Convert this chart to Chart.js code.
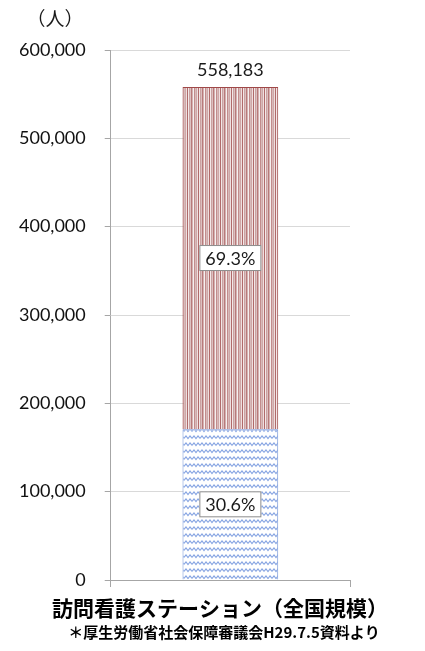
<!DOCTYPE html>
<html>
<head>
<meta charset="utf-8">
<script src="https://cdn.jsdelivr.net/npm/chart.js@4"></script>
<style>
  html, body { margin: 0; padding: 0; background: #fff; }
  #wrap { width: 425px; height: 651px; }
</style>
</head>
<body>
<div id="wrap"><canvas id="chart" width="425" height="651"></canvas></div>
<script>
// Chart data
const categories = ['訪問看護ステーション（全国規模）'];
const lowerValues = [170800];   // 30.6%
const upperValues = [387383];   // 69.3%
const lowerLabels = ['30.6%'];
const upperLabels = ['69.3%'];
const totalLabels = ['558,183'];
const yTicks = [0, 100000, 200000, 300000, 400000, 500000, 600000];
const sourceNote = '＊厚生労働省社会保障審議会H29.7.5資料より';

const numFont = "Lato, 'Open Sans', sans-serif";
const jpFont = "'Noto Sans CJK JP', sans-serif";

// Vertical red stripes
function stripePattern() {
    const c = document.createElement('canvas');
    c.width = 11; c.height = 4;
    const g = c.getContext('2d');
    g.fillStyle = '#cfa9a9';
    g.fillRect(0, 0, 11, 4);
    const cols = ['#b06a6a', '#f3e8e8', '#caa2a2', '#dcc0c0', '#b87a7a', '#d4b2b2', '#f6efef', '#c28c8c', '#d8baba', '#cfa8a8', '#efdfdf'];
    cols.forEach((col, i) => { g.fillStyle = col; g.fillRect(i, 0, 1, 4); });
    return g.createPattern(c, 'repeat');
}

// Blue zigzag waves on white
function wavePattern() {
    const c = document.createElement('canvas');
    c.width = 8; c.height = 7;
    const g = c.getContext('2d');
    g.fillStyle = '#ffffff';
    g.fillRect(0, 0, 8, 7);
    g.strokeStyle = '#86a4e2';
    g.lineWidth = 1.1;
    g.beginPath();
    g.moveTo(0, 4.5); g.lineTo(2, 2); g.lineTo(4, 4.5); g.lineTo(6, 2); g.lineTo(8, 4.5);
    g.stroke();
    return g.createPattern(c, 'repeat');
}

// Boxed percentage labels, total on top, unit label and captions
const labelPlugin = {
    id: 'labelPlugin',
    afterDatasetsDraw(chart) {
        const ctx = chart.ctx;
        ctx.save();
        ctx.font = '18px ' + numFont;
        ctx.textAlign = 'center';
        ctx.textBaseline = 'middle';
        [[0, lowerLabels], [1, upperLabels]].forEach(([di, labels]) => {
            chart.getDatasetMeta(di).data.forEach((bar, i) => {
                const cy = (bar.y + bar.base) / 2;
                const w = ctx.measureText(labels[i]).width + 12;
                ctx.fillStyle = '#fff';
                ctx.fillRect(bar.x - w / 2, cy - 13, w, 26);
                ctx.strokeStyle = '#8c8c8c';
                ctx.lineWidth = 1;
                ctx.strokeRect(bar.x - w / 2 + 0.5, cy - 12.5, w - 1, 25);
                ctx.fillStyle = '#1a1a1a';
                ctx.fillText(labels[i], bar.x, cy + 1);
            });
        });
        chart.getDatasetMeta(1).data.forEach((bar, i) => {
            ctx.fillStyle = '#1a1a1a';
            ctx.fillText(totalLabels[i], bar.x, bar.y - 17);
        });
        ctx.font = '19px ' + jpFont;
        ctx.fillText('（人）', 55, 19);

        const bottom = chart.chartArea.bottom;
        ctx.fillStyle = '#000';
        ctx.font = 'bold 21px ' + jpFont;
        ctx.fillText(categories[0], 220, bottom + 28);
        ctx.font = 'bold 15px ' + jpFont;
        ctx.fillText(sourceNote, 224, bottom + 52);
        ctx.restore();
    }
};

new Chart(document.getElementById('chart'), {
    type: 'bar',
    data: {
        labels: categories,
        datasets: [
            {
                data: lowerValues,
                backgroundColor: wavePattern(),
                borderColor: '#7394d8',
                borderWidth: 1,
                barPercentage: 0.4,
                categoryPercentage: 1
            },
            {
                data: upperValues,
                backgroundColor: stripePattern(),
                borderColor: '#a04848',
                borderWidth: 1,
                barPercentage: 0.4,
                categoryPercentage: 1
            }
        ]
    },
    options: {
        responsive: false,
        animation: false,
        layout: { padding: { top: 50, right: 75, left: 0, bottom: 64 } },
        plugins: {
            legend: { display: false },
            tooltip: { enabled: false }
        },
        scales: {
            x: {
                stacked: true,
                ticks: { display: false },
                grid: { drawOnChartArea: false, drawTicks: true, tickLength: 7, tickColor: '#a6a6a6' },
                border: { color: '#a6a6a6' }
            },
            y: {
                stacked: true,
                min: 0,
                max: 600000,
                afterBuildTicks: axis => { axis.ticks = yTicks.map(v => ({ value: v })); },
                ticks: {
                    color: '#111',
                    font: { family: numFont, size: 18 },
                    padding: 19,
                    callback: v => v.toLocaleString('en-US')
                },
                grid: { color: '#d9d9d9', tickColor: '#a6a6a6', tickLength: 6 },
                border: { color: '#a6a6a6' }
            }
        }
    },
    plugins: [labelPlugin]
});
</script>
</body>
</html>
